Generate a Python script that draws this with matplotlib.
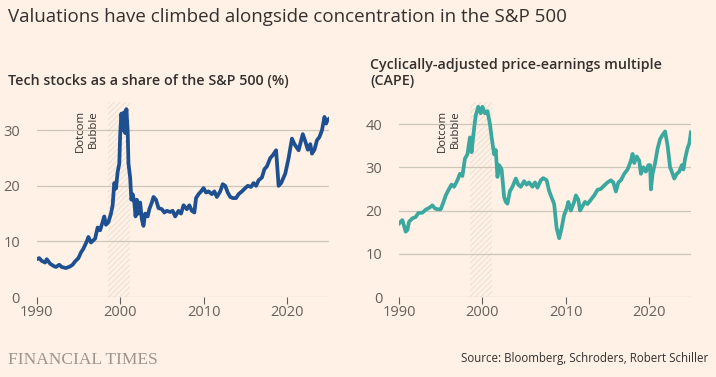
import matplotlib
matplotlib.use("Agg")
import matplotlib.pyplot as plt

# tech stocks as a share of the S&P 500 (%)
tech_years = [1990.0, 1990.3, 1990.6, 1991.0, 1991.2, 1991.6, 1992.0, 1992.3, 1992.7, 1993.0,
              1993.5, 1994.0, 1994.3, 1994.6, 1995.0, 1995.3, 1995.6, 1996.0, 1996.2, 1996.5,
              1997.0, 1997.3, 1997.6, 1997.9, 1998.1, 1998.3, 1998.6, 1998.9, 1999.1, 1999.3,
              1999.5, 1999.7, 1999.9, 2000.0, 2000.15, 2000.3, 2000.45, 2000.6, 2000.75, 2000.9,
              2001.0, 2001.2, 2001.35, 2001.5, 2001.7, 2001.85, 2002.0, 2002.2, 2002.4, 2002.6,
              2002.8, 2003.0, 2003.3, 2003.5, 2003.8, 2004.0, 2004.3, 2004.6, 2005.0, 2005.3,
              2005.6, 2006.0, 2006.3, 2006.6, 2007.0, 2007.3, 2007.6, 2008.0, 2008.3, 2008.6,
              2008.9, 2009.1, 2009.4, 2009.7, 2010.0, 2010.3, 2010.6, 2011.0, 2011.3, 2011.6,
              2012.0, 2012.3, 2012.6, 2012.9, 2013.2, 2013.5, 2013.9, 2014.2, 2014.6, 2015.0,
              2015.3, 2015.7, 2016.0, 2016.3, 2016.6, 2017.0, 2017.3, 2017.6, 2018.0, 2018.3,
              2018.7, 2019.0, 2019.3, 2019.8, 2020.2, 2020.6, 2020.9, 2021.4, 2021.9, 2022.2,
              2022.5, 2022.8, 2023.0, 2023.3, 2023.6, 2023.9, 2024.2, 2024.5, 2024.7, 2024.85,
              2025.0]
tech_share = [6.8, 7.0, 6.5, 6.2, 6.8, 6.0, 5.6, 5.4, 5.8, 5.4,
              5.2, 5.5, 5.8, 6.4, 7.0, 8.0, 8.7, 10.0, 10.8, 9.8,
              10.5, 12.5, 12.0, 13.5, 14.5, 13.0, 13.5, 15.0, 16.5, 20.5,
              19.5, 22.5, 24.0, 29.0, 33.0, 30.0, 33.2, 29.5, 33.8, 30.0,
              24.0, 21.5, 17.5, 18.5, 17.0, 14.5, 17.5, 15.0, 17.0, 14.0,
              12.8, 15.0, 14.5, 15.8, 17.0, 18.0, 17.5, 16.0, 15.8, 15.2,
              15.5, 15.3, 15.5, 14.5, 15.5, 15.0, 16.5, 15.8, 16.5, 15.5,
              15.2, 17.8, 18.5, 19.0, 19.6, 18.8, 19.0, 18.5, 19.0, 18.0,
              19.0, 20.3, 20.0, 18.8, 18.0, 17.8, 17.8, 18.5, 19.0, 19.6,
              20.0, 19.8, 20.5, 20.0, 21.0, 21.5, 23.0, 23.5, 25.0, 25.5,
              26.4, 20.0, 20.5, 22.2, 25.0, 28.5, 27.5, 26.4, 29.3, 28.0,
              26.5, 27.5, 25.8, 26.5, 28.2, 28.8, 30.0, 32.4, 31.2, 31.8,
              32.0]

# cyclically-adjusted price-earnings multiple
cape_years = [1990.0, 1990.4, 1990.8, 1991.0, 1991.2, 1991.6, 1992.0, 1992.3, 1992.8, 1993.2,
              1993.6, 1994.0, 1994.3, 1994.6, 1995.0, 1995.3, 1995.6, 1996.0, 1996.3, 1996.6,
              1997.0, 1997.3, 1997.6, 1997.9, 1998.2, 1998.5, 1998.7, 1999.0, 1999.2, 1999.5,
              1999.8, 2000.0, 2000.3, 2000.6, 2000.9, 2001.1, 2001.4, 2001.6, 2001.8, 2002.0,
              2002.3, 2002.6, 2002.8, 2003.0, 2003.3, 2003.6, 2004.0, 2004.3, 2004.6, 2005.0,
              2005.3, 2005.6, 2006.0, 2006.3, 2006.6, 2007.0, 2007.3, 2007.7, 2008.0, 2008.3,
              2008.6, 2008.9, 2009.2, 2009.5, 2009.8, 2010.1, 2010.3, 2010.6, 2011.0, 2011.2,
              2011.5, 2011.7, 2012.0, 2012.3, 2012.6, 2013.0, 2013.4, 2013.8, 2014.2, 2014.6,
              2015.0, 2015.4, 2015.7, 2016.0, 2016.3, 2016.6, 2017.0, 2017.4, 2017.8, 2018.0,
              2018.2, 2018.5, 2018.8, 2019.0, 2019.3, 2019.6, 2019.9, 2020.1, 2020.2, 2020.4,
              2020.7, 2021.0, 2021.3, 2021.6, 2021.9, 2022.2, 2022.5, 2022.8, 2023.0, 2023.3,
              2023.6, 2023.9, 2024.1, 2024.3, 2024.6, 2024.8, 2025.0]
cape_values = [17.0, 17.8, 15.1, 15.5, 17.4, 18.2, 18.5, 19.4, 19.5, 20.2,
               20.6, 21.2, 20.5, 20.3, 20.3, 21.8, 23.5, 25.0, 26.0, 25.5,
               27.0, 28.5, 28.0, 32.0, 33.0, 36.9, 33.5, 39.0, 42.0, 44.0,
               42.5, 44.0, 42.5, 43.0, 40.0, 37.0, 33.0, 34.0, 27.8, 30.5,
               29.5, 23.1, 22.0, 21.6, 24.5, 25.5, 27.4, 26.0, 25.5, 26.8,
               26.0, 26.5, 25.5, 26.5, 25.3, 27.0, 27.5, 27.0, 24.5, 23.0,
               21.5, 15.9, 13.6, 16.0, 19.0, 20.5, 22.0, 20.0, 22.0, 23.5,
               22.5, 20.0, 21.0, 22.0, 21.5, 22.5, 23.5, 24.8, 25.0, 25.8,
               26.5, 27.0, 26.5, 24.4, 26.5, 27.0, 28.5, 29.5, 31.5, 33.1,
               31.0, 32.5, 31.5, 28.5, 30.0, 29.0, 30.5, 30.5, 24.9, 28.5,
               31.0, 34.3, 36.5, 37.5, 38.3, 35.0, 30.0, 28.5, 27.4, 28.5,
               29.0, 30.5, 29.5, 32.0, 34.5, 35.5, 38.1]

year_ticks = [1990, 2000, 2010, 2020]
bubble_start, bubble_end = 1998.5, 2001.2

BG = "#fff1e5"
TXT = "#33302e"
GREY = "#66605c"
GRID = "#cec6b9"

plt.rcParams["font.family"] = ["Open Sans", "DejaVu Sans"]
plt.rcParams["hatch.linewidth"] = 0.6

fig = plt.figure(figsize=(7.16, 3.77), dpi=100, facecolor=BG)

panels = [
    ([0.0513, 0.2122, 0.4077, 0.516], tech_years, tech_share, "#1d4f91", [0, 10, 20, 30], 35),
    ([0.5573, 0.2122, 0.4077, 0.516], cape_years, cape_values, "#3ba89f", [0, 10, 20, 30, 40], 45),
]

for rect, xs, ys, col, yt, ytop in panels:
    ax = fig.add_axes(rect)
    ax.set_facecolor(BG)
    ax.axvspan(bubble_start, bubble_end, facecolor="none", edgecolor="#e7dbd0",
               hatch="//////", linewidth=0, zorder=0)
    ax.plot(xs, ys, color=col, lw=2.7, solid_joinstyle="round", zorder=3)
    ax.set_xlim(1990, 2025)
    ax.set_ylim(0, ytop)
    ax.set_yticks(yt)
    ax.set_xticks(year_ticks)
    ax.grid(axis="y", color=GRID, lw=0.9)
    ax.set_axisbelow(True)
    for s in ["top", "right", "left", "bottom"]:
        ax.spines[s].set_visible(False)
    ax.tick_params(axis="y", length=0, pad=12, labelsize=10.5, labelcolor=GREY)
    ax.tick_params(axis="x", length=5, width=0.8, color=GREY, pad=1,
                   labelsize=10.5, labelcolor=GREY)
    ax.text(0.171, 0.961, "Dotcom\nBubble", transform=ax.transAxes, rotation=90,
            ha="center", va="top", multialignment="right", fontsize=8.2,
            color=TXT, linespacing=1.2)

fig.text(0.011, 0.955, "Valuations have climbed alongside concentration in the S&P 500",
         fontsize=13.5, color=TXT, va="center")
fig.text(0.011, 0.785, "Tech stocks as a share of the S&P 500 (%)",
         fontsize=10.3, color=TXT, va="center", fontweight="semibold")
fig.text(0.517, 0.806, "Cyclically-adjusted price-earnings multiple\n(CAPE)",
         fontsize=10.3, color=TXT, va="center", fontweight="semibold", linespacing=1.2)
fig.text(0.011, 0.045, "FINANCIAL TIMES", fontsize=12.5, color="#9e958d",
         family="Liberation Serif", va="center")
fig.text(0.989, 0.05, "Source: Bloomberg, Schroders, Robert Schiller",
         fontsize=8.3, color=TXT, ha="right", va="center")

fig.savefig("out.png", dpi=100, facecolor=BG)
